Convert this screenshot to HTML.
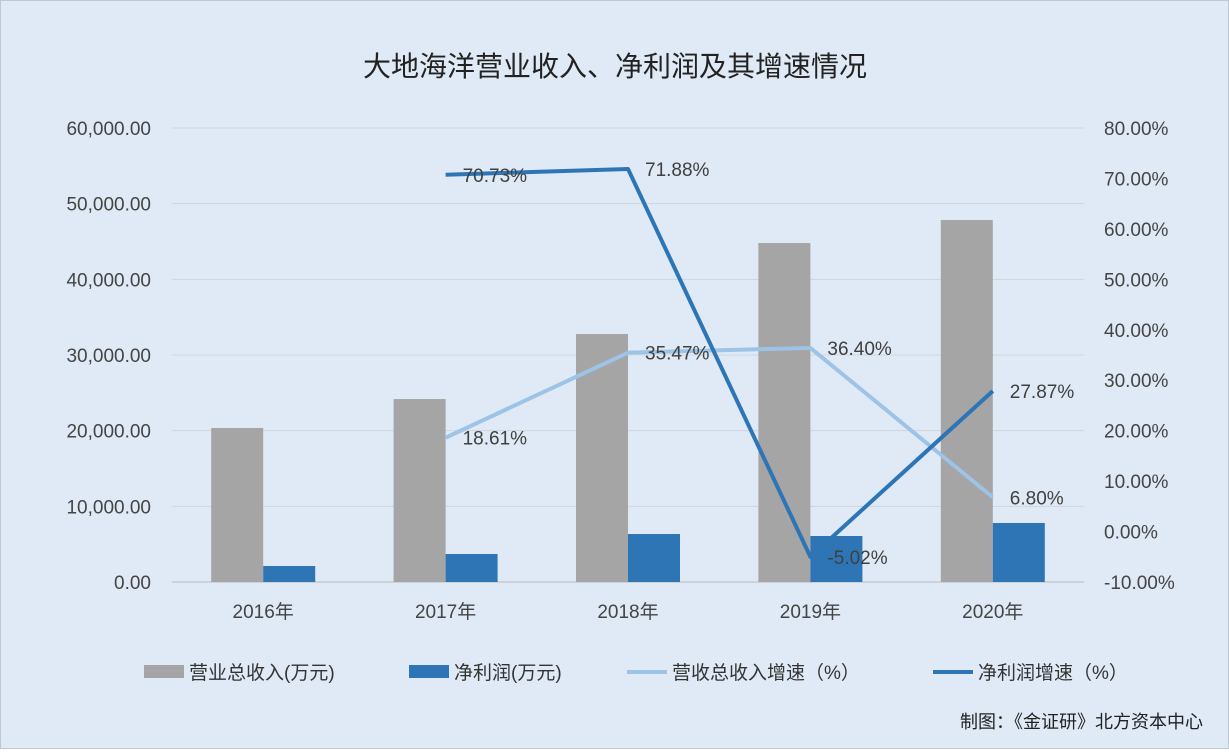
<!DOCTYPE html>
<html><head><meta charset="utf-8"><style>
body{margin:0;background:#fff}
#c{width:1229px;height:749px;position:relative;background:#dfeaf6;font-family:"Liberation Sans","Noto Sans CJK SC",sans-serif;box-sizing:border-box;border:1px solid #bfc8d2}
</style></head><body>
<div id="c">
<svg id="s" width="1229" height="749"></svg>
</div>
<script>
const categories=["2016年","2017年","2018年","2019年","2020年"];
const revenue=[20350,24180,32770,44800,47840];
const profit=[2115,3700,6340,6080,7800];
const revGrowth=[null,18.61,35.47,36.40,6.80];
const profGrowth=[null,70.73,71.88,-5.02,27.87];
const leftTicks=[0,10000,20000,30000,40000,50000,60000];
const rightTicks=[-10,0,10,20,30,40,50,60,70,80];
const NS="http://www.w3.org/2000/svg";
const svg=document.getElementById('s');
function el(t,a,txt){const e=document.createElementNS(NS,t);for(const k in a)e.setAttribute(k,a[k]);if(txt!=null)e.textContent=txt;svg.appendChild(e);return e;}
const x0=171,x1=1083,yTop=127,yBot=581;
const band=(x1-x0)/categories.length;
const cx=i=>x0+band*(i+0.5);
const yL=v=>yBot-(v/60000)*(yBot-yTop);
const yR=v=>yBot-((v+10)/90)*(yBot-yTop);
let t=el('text',{x:614,y:75,'text-anchor':'middle','font-size':28,fill:'#222'},'大地海洋营业收入、净利润及其增速情况');

leftTicks.forEach(v=>{
 let g=el('line',{x1:x0,x2:x1,y1:yL(v),y2:yL(v),stroke:v===0?'#bbb':'#d0d6dd','stroke-width':1});
 
 let l=el('text',{x:150,y:yL(v)+7,'text-anchor':'end','font-size':19,fill:'#444'},v.toLocaleString('en-US',{minimumFractionDigits:2}));
 
});
rightTicks.forEach(v=>{
 let l=el('text',{x:1103,y:yR(v)+7,'font-size':19,fill:'#444'},v.toFixed(2)+'%');
 
});
categories.forEach((c,i)=>{
 let l=el('text',{x:cx(i),y:617,'text-anchor':'middle','font-size':19,fill:'#444'},c);
 
 let b=el('rect',{x:cx(i)-52,y:yL(revenue[i]),width:52,height:yBot-yL(revenue[i]),fill:'#a5a5a5'});
 
 let p=el('rect',{x:cx(i),y:yL(profit[i]),width:52,height:yBot-yL(profit[i]),fill:'#2e75b6'});
 
});
function line(data,color,name){
 const pts=[];data.forEach((v,i)=>{if(v!=null)pts.push(cx(i)+','+yR(v));});
 let pl=el('polyline',{points:pts.join(' '),fill:'none',stroke:color,'stroke-width':4,'stroke-linejoin':'round'});
 
}
line(revGrowth,'#9dc3e6','line-revenue-growth');
line(profGrowth,'#2e75b6','line-profit-growth');
function labels(data,dx,dy){data.forEach((v,i)=>{if(v==null)return;
 let l=el('text',{x:cx(i)+dx,y:yR(v)+dy,'font-size':19,fill:'#404040'},v.toFixed(2)+'%');
 });}
labels(revGrowth,17,7);
labels(profGrowth,17,7);
const leg=[['rect','#a5a5a5','营业总收入(万元)',143],['rect','#2e75b6','净利润(万元)',408],['line','#9dc3e6','营收总收入增速（%）',626],['line','#2e75b6','净利润增速（%）',932]];
leg.forEach(([k,c,txt,x])=>{
 let m=k==='rect'?el('rect',{x:x,y:664,width:40,height:13,fill:c}):el('line',{x1:x,x2:x+40,y1:671,y2:671,stroke:c,'stroke-width':4});
 
 let l=el('text',{x:x+45,y:678,'font-size':19,fill:'#333'},txt);
 
});
let f=el('text',{x:1202,y:727,'text-anchor':'end','font-size':18,fill:'#222'},'制图：《金证研》北方资本中心');

</script>
</body></html>
